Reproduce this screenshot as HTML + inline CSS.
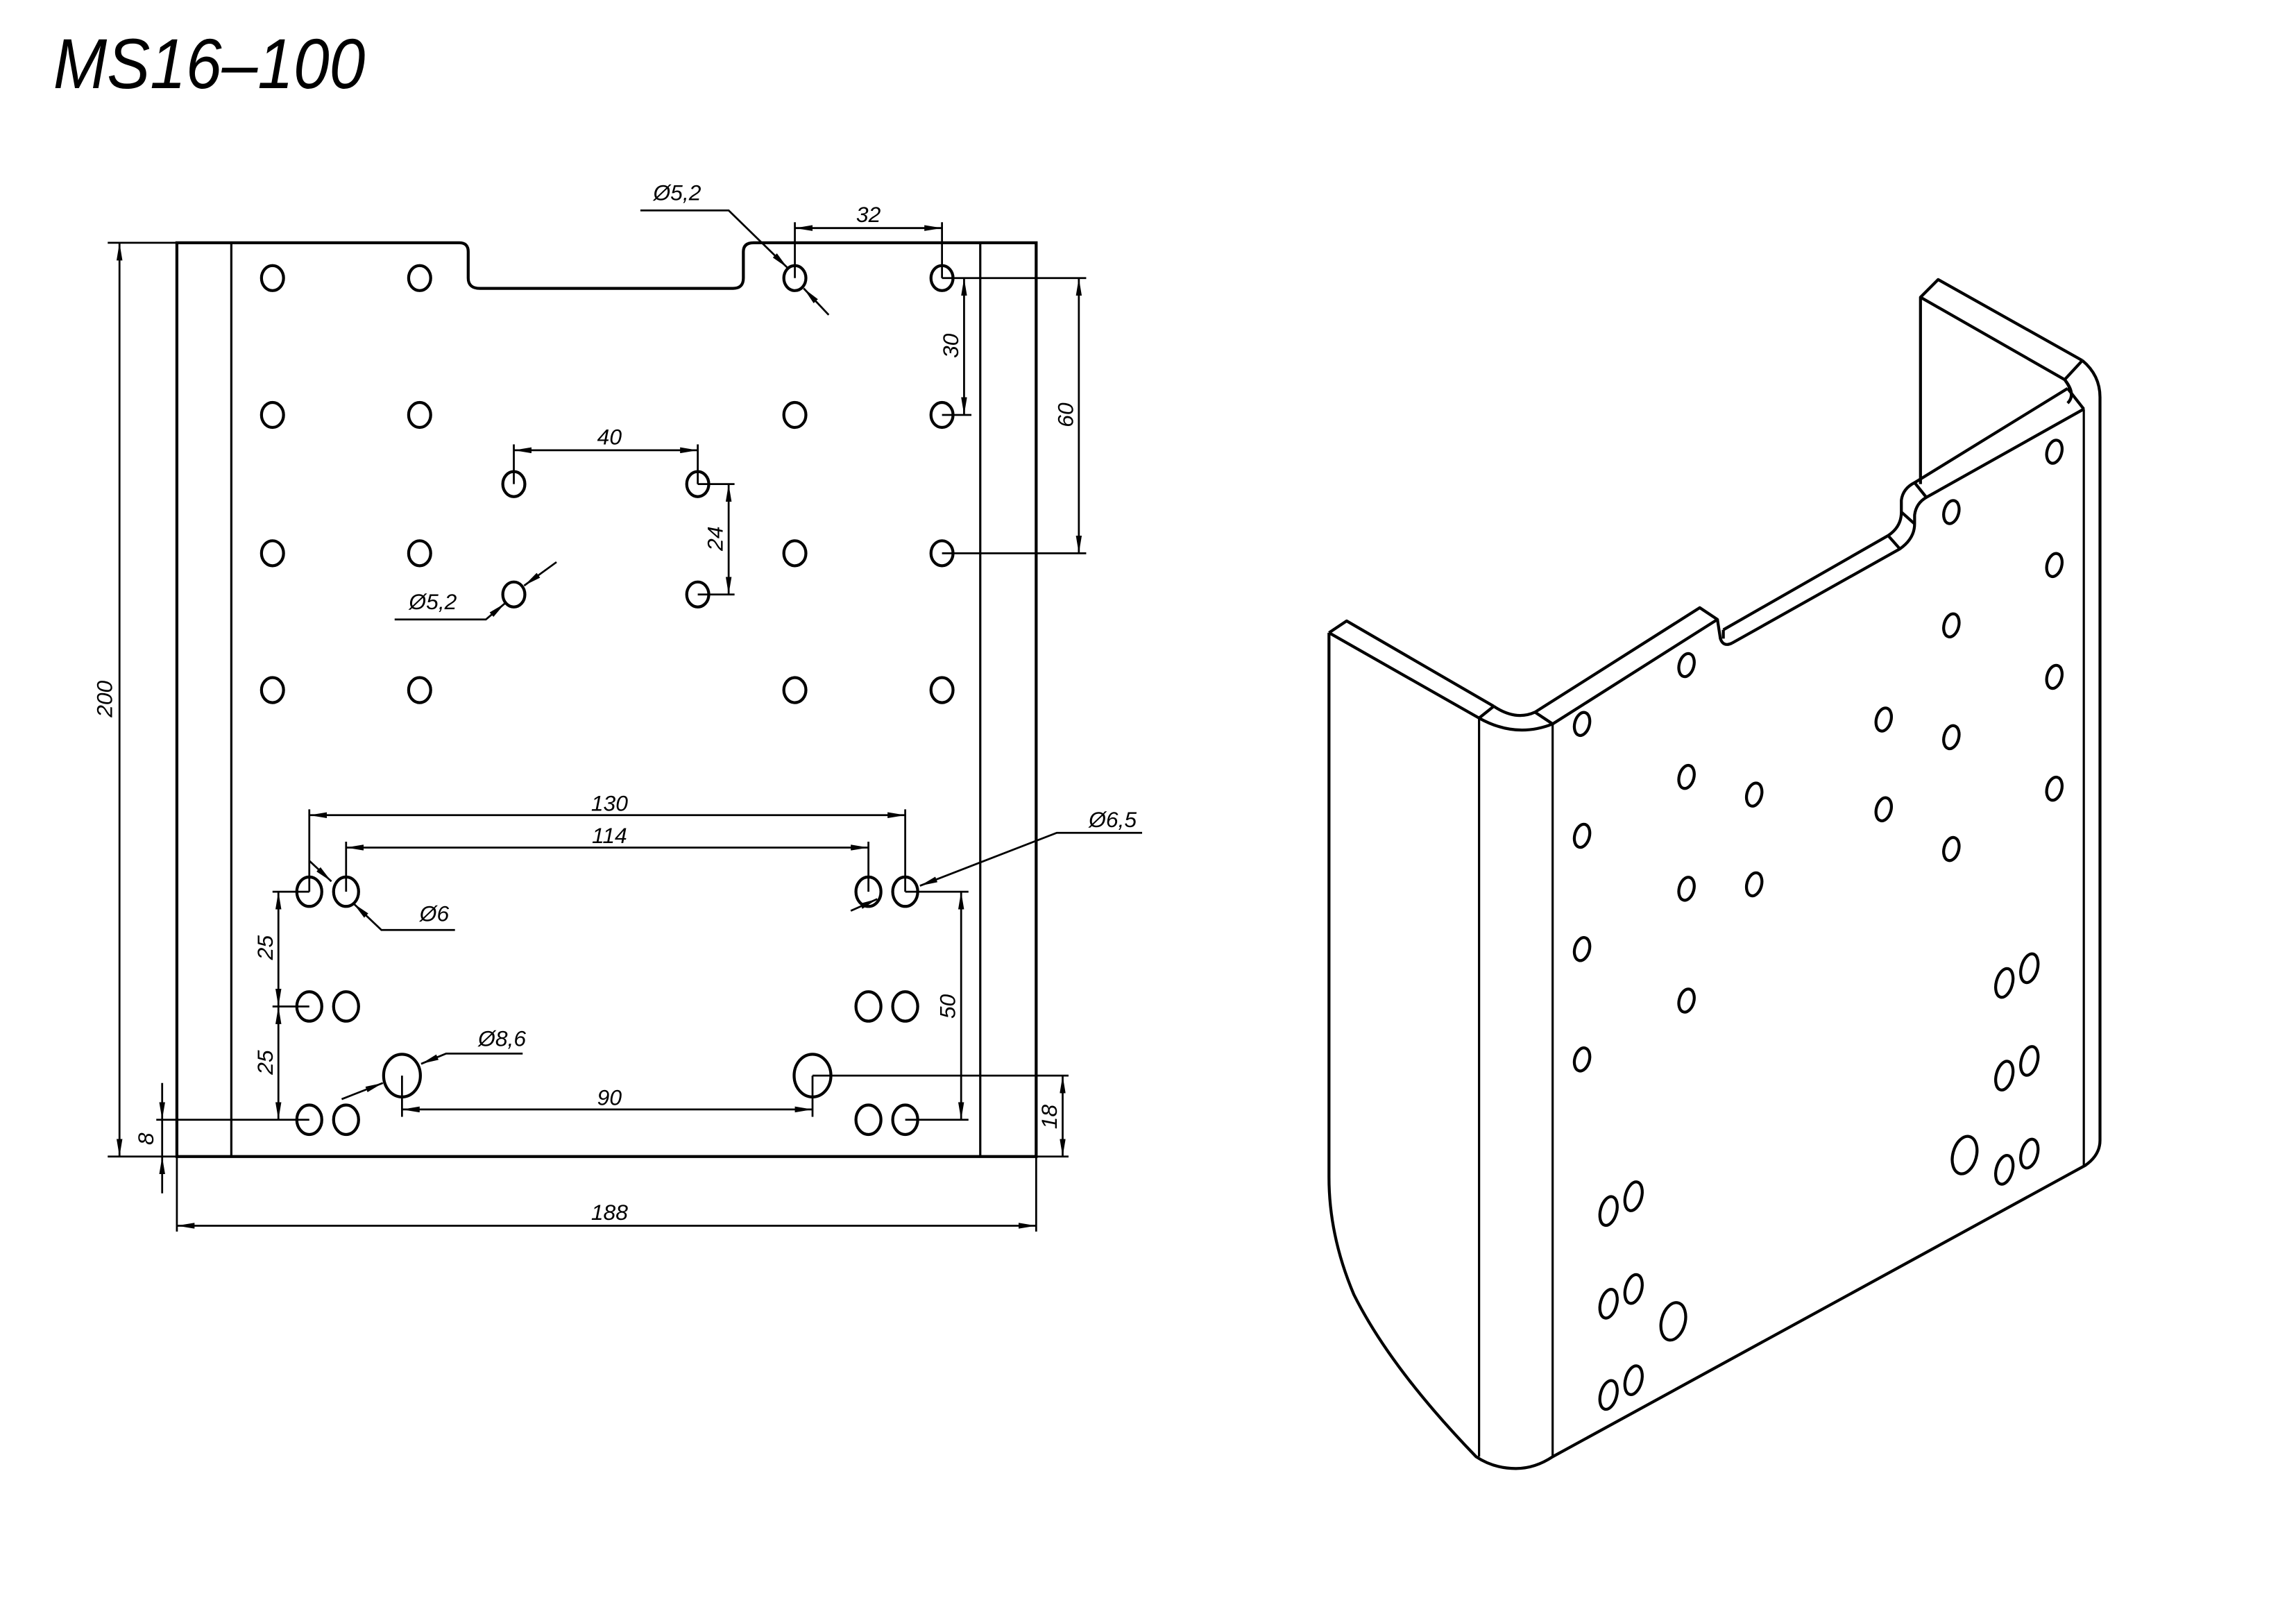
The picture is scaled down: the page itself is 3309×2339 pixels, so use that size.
<!DOCTYPE html>
<html><head><meta charset="utf-8"><style>
html,body{margin:0;padding:0;background:#fff;}
svg{display:block;}
text{font-family:"Liberation Sans",sans-serif;font-style:italic;fill:#000;}
</style></head><body>
<svg width="3309" height="2339" viewBox="0 0 1560 1103" xmlns="http://www.w3.org/2000/svg">
<defs>
<marker id="a" viewBox="0 0 12 4" refX="12" refY="2" markerWidth="12" markerHeight="4" markerUnits="userSpaceOnUse" orient="auto-start-reverse"><path d="M0,0 L12,2 L0,4 z" fill="#000"/></marker>
</defs>
<text x="36" y="60" font-size="48" textLength="212" lengthAdjust="spacingAndGlyphs">MS16–100</text>

<g transform="translate(-2,-1)">
<g fill="none" stroke="#000" stroke-width="2">
<path d="M122,166 L314,166 Q320,166 320,172 L320,190 Q320,197 328,197 L500,197 Q507,197 507,190 L507,172 Q507,166 514,166 L706,166 L706,787 L122,787 Z"/>
</g>
<g stroke="#000" stroke-width="1.5" fill="none">
<line x1="159" y1="166" x2="159" y2="787"/>
<line x1="668" y1="166" x2="668" y2="787"/>
</g>
<g fill="none" stroke="#000" stroke-width="2">
<ellipse cx="187" cy="190" rx="7.5" ry="8.5"/><ellipse cx="287" cy="190" rx="7.5" ry="8.5"/><ellipse cx="542" cy="190" rx="7.5" ry="8.5"/><ellipse cx="642" cy="190" rx="7.5" ry="8.5"/>
<ellipse cx="187" cy="283" rx="7.5" ry="8.5"/><ellipse cx="287" cy="283" rx="7.5" ry="8.5"/><ellipse cx="542" cy="283" rx="7.5" ry="8.5"/><ellipse cx="642" cy="283" rx="7.5" ry="8.5"/>
<ellipse cx="187" cy="377" rx="7.5" ry="8.5"/><ellipse cx="287" cy="377" rx="7.5" ry="8.5"/><ellipse cx="542" cy="377" rx="7.5" ry="8.5"/><ellipse cx="642" cy="377" rx="7.5" ry="8.5"/>
<ellipse cx="187" cy="470" rx="7.5" ry="8.5"/><ellipse cx="287" cy="470" rx="7.5" ry="8.5"/><ellipse cx="542" cy="470" rx="7.5" ry="8.5"/><ellipse cx="642" cy="470" rx="7.5" ry="8.5"/>
<ellipse cx="351" cy="330" rx="7.5" ry="8.5"/><ellipse cx="476" cy="330" rx="7.5" ry="8.5"/><ellipse cx="351" cy="405" rx="7.5" ry="8.5"/><ellipse cx="476" cy="405" rx="7.5" ry="8.5"/>
<ellipse cx="212" cy="607" rx="8.5" ry="10"/><ellipse cx="237" cy="607" rx="8.5" ry="10"/><ellipse cx="592" cy="607" rx="8.5" ry="10"/><ellipse cx="617" cy="607" rx="8.5" ry="10"/>
<ellipse cx="212" cy="685" rx="8.5" ry="10"/><ellipse cx="237" cy="685" rx="8.5" ry="10"/><ellipse cx="592" cy="685" rx="8.5" ry="10"/><ellipse cx="617" cy="685" rx="8.5" ry="10"/>
<ellipse cx="212" cy="762" rx="8.5" ry="10"/><ellipse cx="237" cy="762" rx="8.5" ry="10"/><ellipse cx="592" cy="762" rx="8.5" ry="10"/><ellipse cx="617" cy="762" rx="8.5" ry="10"/>
<ellipse cx="275" cy="732" rx="12.5" ry="14.5"/><ellipse cx="554" cy="732" rx="12.5" ry="14.5"/>
</g>

<g stroke="#000" stroke-width="1.3" fill="none">
<line x1="75" y1="166" x2="122" y2="166"/><line x1="75" y1="787" x2="122" y2="787"/>
<line x1="83" y1="166" x2="83" y2="787" marker-start="url(#a)" marker-end="url(#a)"/>
<line x1="122" y1="787" x2="122" y2="838"/><line x1="706" y1="787" x2="706" y2="838"/>
<line x1="122" y1="834" x2="706" y2="834" marker-start="url(#a)" marker-end="url(#a)"/>
<line x1="108" y1="762" x2="212" y2="762"/>
<line x1="112" y1="737" x2="112" y2="762" marker-end="url(#a)"/>
<line x1="112" y1="812" x2="112" y2="787" marker-end="url(#a)"/>
<line x1="112" y1="762" x2="112" y2="787"/>
<line x1="542" y1="152" x2="542" y2="190"/><line x1="642" y1="152" x2="642" y2="190"/>
<line x1="542" y1="156" x2="642" y2="156" marker-start="url(#a)" marker-end="url(#a)"/>
<line x1="642" y1="190" x2="740" y2="190"/><line x1="642" y1="283" x2="662" y2="283"/><line x1="642" y1="377" x2="740" y2="377"/>
<line x1="657" y1="190" x2="657" y2="283" marker-start="url(#a)" marker-end="url(#a)"/>
<line x1="735" y1="190" x2="735" y2="377" marker-start="url(#a)" marker-end="url(#a)"/>
<line x1="351" y1="303" x2="351" y2="330"/><line x1="476" y1="303" x2="476" y2="330"/>
<line x1="351" y1="307" x2="476" y2="307" marker-start="url(#a)" marker-end="url(#a)"/>
<line x1="476" y1="330" x2="501" y2="330"/><line x1="476" y1="405" x2="501" y2="405"/>
<line x1="497" y1="330" x2="497" y2="405" marker-start="url(#a)" marker-end="url(#a)"/>
<path d="M437,144 L497,144 L537,183" marker-end="url(#a)"/>
<line x1="565" y1="215" x2="548" y2="197" marker-end="url(#a)"/>
<path d="M270,422 L332,422 L345,411" marker-end="url(#a)"/>
<line x1="380" y1="383" x2="358" y2="399" marker-end="url(#a)"/>
<line x1="212" y1="551" x2="212" y2="607"/><line x1="617" y1="551" x2="617" y2="607"/>
<line x1="212" y1="555" x2="617" y2="555" marker-start="url(#a)" marker-end="url(#a)"/>
<line x1="237" y1="573" x2="237" y2="607"/><line x1="592" y1="573" x2="592" y2="607"/>
<line x1="237" y1="577" x2="592" y2="577" marker-start="url(#a)" marker-end="url(#a)"/>
<path d="M311,633 L261,633 L242,615" marker-end="url(#a)"/>
<line x1="212" y1="586" x2="227" y2="600" marker-end="url(#a)"/>
<path d="M778,567 L720,567 L627,603" marker-end="url(#a)"/>
<line x1="580" y1="620" x2="598" y2="612" marker-end="url(#a)"/>
<line x1="187" y1="607" x2="212" y2="607"/><line x1="187" y1="685" x2="212" y2="685"/>
<line x1="191" y1="607" x2="191" y2="685" marker-start="url(#a)" marker-end="url(#a)"/>
<line x1="191" y1="685" x2="191" y2="762" marker-start="url(#a)" marker-end="url(#a)"/>
<line x1="617" y1="607" x2="660" y2="607"/><line x1="617" y1="762" x2="660" y2="762"/>
<line x1="655" y1="607" x2="655" y2="762" marker-start="url(#a)" marker-end="url(#a)"/>
<path d="M357,717 L305,717 L288,724" marker-end="url(#a)"/>
<line x1="234" y1="748" x2="262" y2="737" marker-end="url(#a)"/>
<line x1="275" y1="732" x2="275" y2="760"/><line x1="554" y1="732" x2="554" y2="760"/>
<line x1="275" y1="755" x2="554" y2="755" marker-start="url(#a)" marker-end="url(#a)"/>
<line x1="554" y1="732" x2="728" y2="732"/><line x1="706" y1="787" x2="728" y2="787"/>
<line x1="724" y1="732" x2="724" y2="787" marker-start="url(#a)" marker-end="url(#a)"/>
</g>
<g font-size="15" text-anchor="middle">
<text transform="translate(78,476) rotate(-90)">200</text>
<text x="416" y="830">188</text>
<text transform="translate(106,775) rotate(-90)">8</text>
<text x="592" y="152">32</text>
<text transform="translate(653,236) rotate(-90)">30</text>
<text transform="translate(731,283) rotate(-90)">60</text>
<text x="416" y="303">40</text>
<text transform="translate(493,367) rotate(-90)">24</text>
<text x="462" y="137">Ø5,2</text>
<text x="296" y="415">Ø5,2</text>
<text x="416" y="552">130</text>
<text x="416" y="574">114</text>
<text x="297" y="627">Ø6</text>
<text x="758" y="563">Ø6,5</text>
<text transform="translate(187,645) rotate(-90)">25</text>
<text transform="translate(187,723) rotate(-90)">25</text>
<text transform="translate(651,685) rotate(-90)">50</text>
<text x="343" y="712">Ø8,6</text>
<text x="416" y="752">90</text>
<text transform="translate(720,760) rotate(-90)">18</text>
</g>
</g>

<g transform="translate(-5,0)">
<g fill="none" stroke="#000" stroke-width="2" stroke-linejoin="round">
<path d="M908,430 L908,800 Q908,840 925,880 Q950,930 1008,990 Q1020,998 1035,998 Q1048,998 1060,990 L1422,792 Q1432,785 1432,775 L1432,270 Q1432,255 1420,245"/>
<path d="M908,430 L920,422 L1020,480"/>
<path d="M908,430 L1010,488"/>
<path d="M1010,488 Q1035,502 1060,492"/>
<path d="M1020,480 Q1035,490 1048,484"/>
<line x1="1010" y1="488" x2="1020" y2="480"/>
<line x1="1060" y1="492" x2="1048" y2="484"/>
<path d="M1048,484 L1160,413 L1172,421 L1060,492"/>
<path d="M1172,421 L1174,434 Q1176,440 1182,437"/>
<path d="M1176,428 L1176,434"/>
<path d="M1176,428 L1288,364 Q1297,358 1297,348 L1297,340 Q1298,332 1306,328 L1410,264"/>
<path d="M1182,437 L1296,373 Q1306,366 1306,356 L1306,350 Q1307,342 1314,338 L1421,278"/>
<line x1="1288" y1="364" x2="1296" y2="373"/>
<line x1="1297" y1="348" x2="1306" y2="356"/>
<line x1="1306" y1="328" x2="1314" y2="338"/>
<path d="M1310,329 L1310,202 L1322,190 L1420,245"/>
<path d="M1310,202 L1408,258 Q1413,265 1410,264"/>
<line x1="1420" y1="245" x2="1408" y2="258"/>
<path d="M1408,258 Q1416,268 1410,274"/>
<line x1="1410" y1="264" x2="1421" y2="278"/>
</g>
<g stroke="#000" stroke-width="1.5" fill="none">
<line x1="1010" y1="488" x2="1010" y2="990"/>
<line x1="1060" y1="492" x2="1060" y2="990"/>
<line x1="1421" y1="278" x2="1421" y2="792"/>
</g>
<g fill="none" stroke="#000" stroke-width="2">
<g transform="translate(1080,492) rotate(15)"><ellipse rx="5" ry="8"/></g>
<g transform="translate(1080,568) rotate(15)"><ellipse rx="5" ry="8"/></g>
<g transform="translate(1080,645) rotate(15)"><ellipse rx="5" ry="8"/></g>
<g transform="translate(1080,720) rotate(15)"><ellipse rx="5" ry="8"/></g>
<g transform="translate(1151,452) rotate(15)"><ellipse rx="5" ry="8"/></g>
<g transform="translate(1151,528) rotate(15)"><ellipse rx="5" ry="8"/></g>
<g transform="translate(1151,604) rotate(15)"><ellipse rx="5" ry="8"/></g>
<g transform="translate(1151,680) rotate(15)"><ellipse rx="5" ry="8"/></g>
<g transform="translate(1197,540) rotate(15)"><ellipse rx="5" ry="8"/></g>
<g transform="translate(1197,601) rotate(15)"><ellipse rx="5" ry="8"/></g>
<g transform="translate(1285,489) rotate(15)"><ellipse rx="5" ry="8"/></g>
<g transform="translate(1285,550) rotate(15)"><ellipse rx="5" ry="8"/></g>
<g transform="translate(1331,348) rotate(15)"><ellipse rx="5" ry="8"/></g>
<g transform="translate(1331,425) rotate(15)"><ellipse rx="5" ry="8"/></g>
<g transform="translate(1331,501) rotate(15)"><ellipse rx="5" ry="8"/></g>
<g transform="translate(1331,577) rotate(15)"><ellipse rx="5" ry="8"/></g>
<g transform="translate(1401,307) rotate(15)"><ellipse rx="5" ry="8"/></g>
<g transform="translate(1401,384) rotate(15)"><ellipse rx="5" ry="8"/></g>
<g transform="translate(1401,460) rotate(15)"><ellipse rx="5" ry="8"/></g>
<g transform="translate(1401,536) rotate(15)"><ellipse rx="5" ry="8"/></g>
<g transform="translate(1367,668) rotate(15)"><ellipse rx="5.5" ry="10"/></g>
<g transform="translate(1384,658) rotate(15)"><ellipse rx="5.5" ry="10"/></g>
<g transform="translate(1367,731) rotate(15)"><ellipse rx="5.5" ry="10"/></g>
<g transform="translate(1384,721) rotate(15)"><ellipse rx="5.5" ry="10"/></g>
<g transform="translate(1367,795) rotate(15)"><ellipse rx="5.5" ry="10"/></g>
<g transform="translate(1384,784) rotate(15)"><ellipse rx="5.5" ry="10"/></g>
<g transform="translate(1340,785) rotate(15)"><ellipse rx="8" ry="13"/></g>
<g transform="translate(1098,823) rotate(15)"><ellipse rx="5.5" ry="10"/></g>
<g transform="translate(1115,813) rotate(15)"><ellipse rx="5.5" ry="10"/></g>
<g transform="translate(1098,886) rotate(15)"><ellipse rx="5.5" ry="10"/></g>
<g transform="translate(1115,876) rotate(15)"><ellipse rx="5.5" ry="10"/></g>
<g transform="translate(1098,948) rotate(15)"><ellipse rx="5.5" ry="10"/></g>
<g transform="translate(1115,938) rotate(15)"><ellipse rx="5.5" ry="10"/></g>
<g transform="translate(1142,898) rotate(15)"><ellipse rx="8" ry="13"/></g>
</g>
</g>
</svg>
</body></html>
